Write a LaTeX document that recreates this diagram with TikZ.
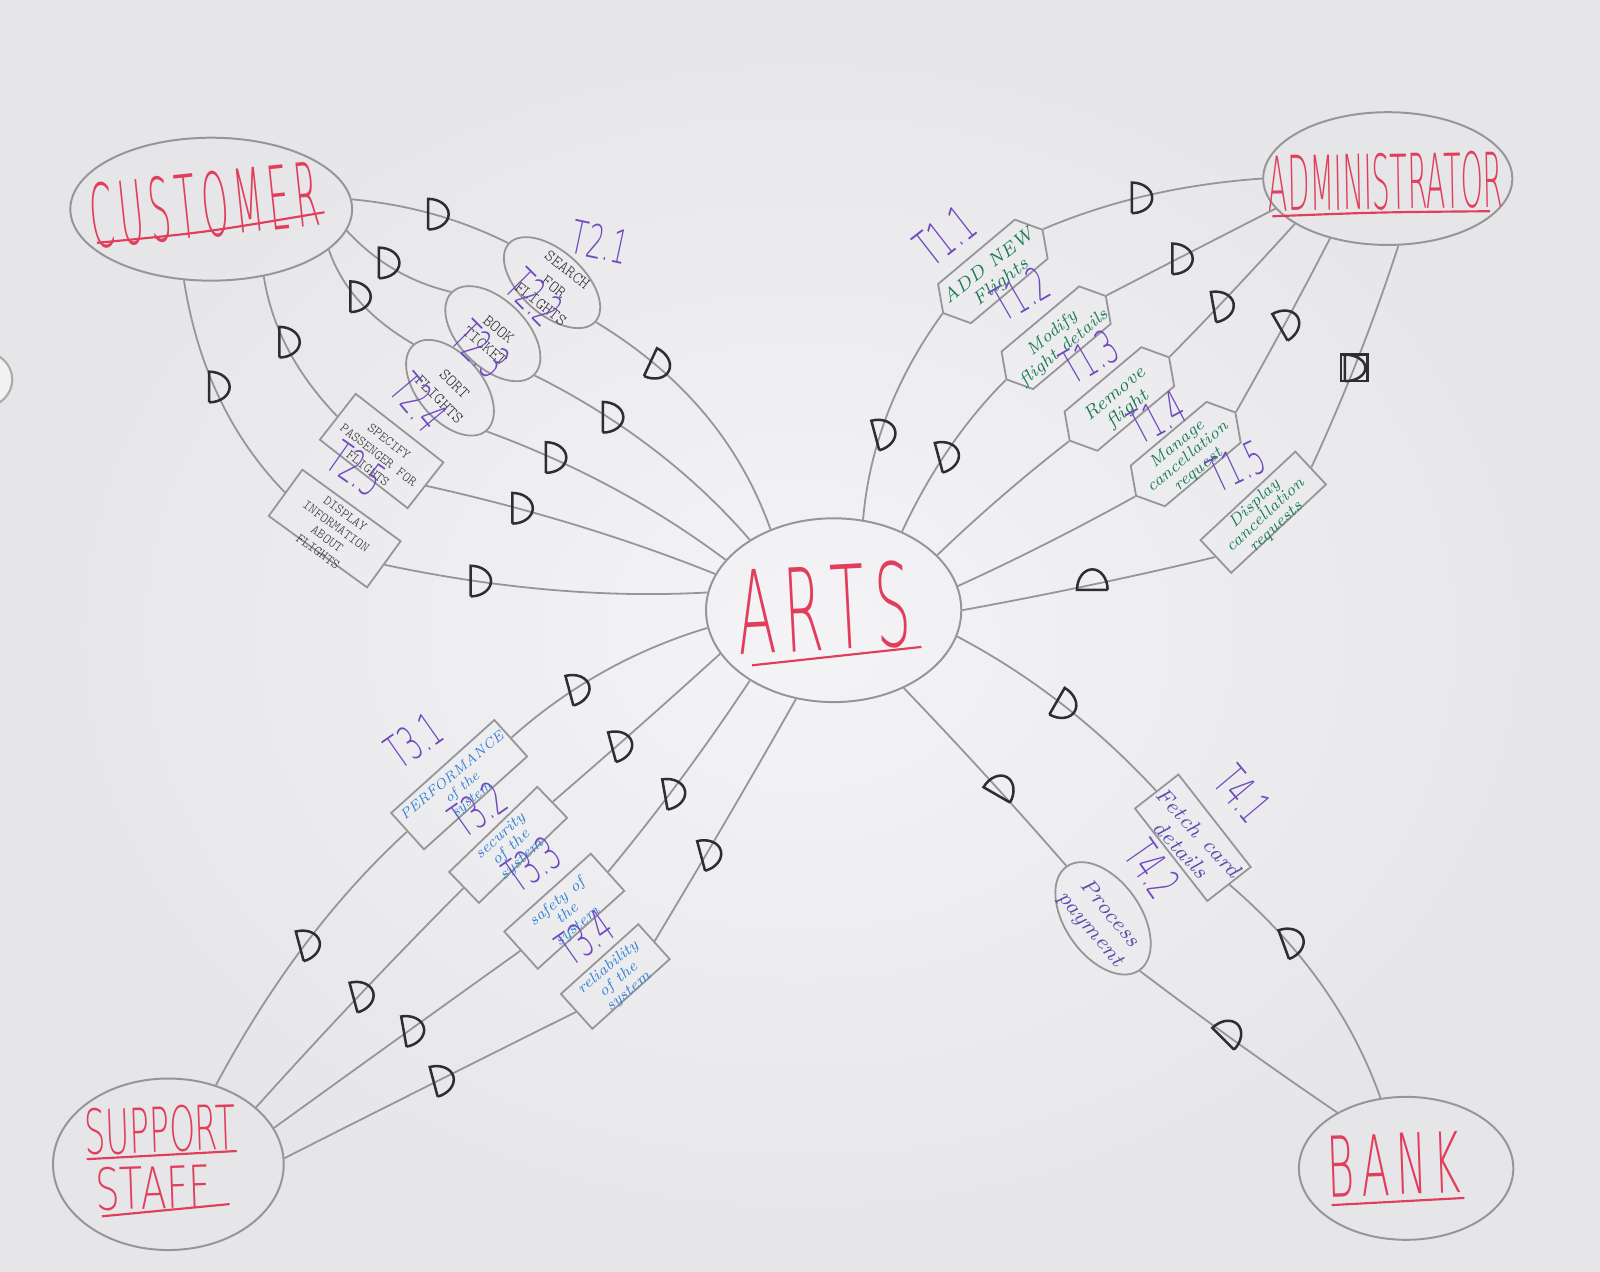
\documentclass[tikz,border=0pt]{standalone}
\usepackage{fontspec}
\usepackage{graphicx}
\usetikzlibrary{shapes.geometric,shapes.symbols,calc}
\IfFontExistsTF{DejaVuSans-ExtraLight.ttf}
  {\newfontfamily\handfont{DejaVuSans-ExtraLight.ttf}}
  {\newfontfamily\handfont[Extension=.otf]{lmmonoltcond10-regular}}
\newfontfamily\capsfont[Extension=.otf]{lmmonolt10-regular}
\definecolor{paperin}{RGB}{244,244,246}
\definecolor{paperout}{RGB}{230,230,232}
\definecolor{pencil}{RGB}{150,150,153}
\definecolor{ink}{RGB}{45,45,52}
\definecolor{titlered}{RGB}{225,62,92}
\definecolor{lblpurple}{RGB}{112,72,192}
\definecolor{txtgreen}{RGB}{28,122,86}
\definecolor{txtblue}{RGB}{48,128,212}
\definecolor{txtviolet}{RGB}{88,78,172}
\newcommand{\tlab}[1]{\scalebox{0.55}[1]{#1}}
\newcommand{\qconn}[5]{\draw[conn] (#1) .. controls ($(#1)!0.6667!(#2)$) and ($(#3)!0.6667!(#2)$) .. (#3) coordinate[pos=#4] (#5);}
\tikzset{
  actor/.style={draw=pencil, line width=0.55pt, ellipse, inner sep=0pt},
  actortitle/.style={text=titlered, font=\handfont\fontsize{26}{26}\selectfont, inner sep=0pt},
  uline/.style={draw=titlered, line width=0.6pt},
  conn/.style={draw=pencil, line width=0.5pt},
  task/.style={draw=pencil, line width=0.5pt, inner sep=0pt},
  ovaltask/.style={task, ellipse},
  boxtask/.style={task, rectangle},
  hextask/.style={task, signal, signal to=east and west, signal pointer angle=120},
  tlabel/.style={text=lblpurple, font=\handfont\fontsize{13}{13}\selectfont, inner sep=0pt},
  capstxt/.style={text=ink, font=\capsfont\fontsize{4.6}{6}\selectfont, align=center, inner sep=0pt},
  greentxt/.style={text=txtgreen, font=\itshape\fontsize{5.2}{5.6}\selectfont, align=center, inner sep=0pt},
  bluetxt/.style={text=txtblue, font=\itshape\fontsize{4.3}{4.4}\selectfont, align=center, inner sep=0pt},
  violettxt/.style={text=txtviolet, font=\itshape\fontsize{6}{6.8}\selectfont, align=center, inner sep=0pt},
  dstyle/.style={draw=ink, line width=0.7pt},
  dmark/.pic={\draw[dstyle] (-0.05cm,-0.15cm) -- (-0.05cm,0.15cm) arc[start angle=90,end angle=-90,x radius=0.2cm,y radius=0.15cm];},
  dboxmark/.pic={\draw[dstyle] (-0.13cm,-0.13cm) rectangle (0.13cm,0.13cm);
                 \draw[dstyle] (-0.09cm,-0.13cm) -- (-0.09cm,0.13cm) arc[start angle=90,end angle=-90,x radius=0.2cm,y radius=0.13cm];}
}
\begin{document}
\begin{tikzpicture}[x=0.01cm,y=-0.01cm]
\shade[inner color=paperin, outer color=paperout] (0,0) rectangle (1568,1246);
\useasboundingbox (0,0) rectangle (1568,1246);
\filldraw[fill=white!90!gray, draw=gray!65, line width=0.6pt] (-16,372) ellipse[x radius=28, y radius=27];

% actors
\node[actor, minimum width=2.76cm, minimum height=1.40cm] (cust) at (207,205) {};
\node[actor, minimum width=2.44cm, minimum height=1.30cm] (admin) at (1360,175) {};
\node[actor, minimum width=2.50cm, minimum height=1.80cm] (arts) at (817,598) {};
\node[actor, minimum width=2.26cm, minimum height=1.68cm] (staff) at (165,1141) {};
\node[actor, minimum width=2.10cm, minimum height=1.40cm] (bank) at (1378,1145) {};

% actor names
\node[actortitle, rotate=6] (custname) at (200,201) {\resizebox{2.25cm}{0.64cm}{C\,U\,S\,T\,O\,M\,E\,R}};
\node[actortitle, rotate=1] (adminname) at (1358,178) {\resizebox{2.3cm}{0.55cm}{ADMINISTRATOR}};
\node[actortitle, rotate=3] (artsname) at (807,596) {\resizebox{1.70cm}{0.84cm}{A\,R\,T\,S}};
\node[actortitle, rotate=2] (supname) at (157,1107) {\resizebox{1.48cm}{0.45cm}{SUPPORT}};
\node[actortitle, rotate=2] (staffname) at (150,1164) {\resizebox{1.12cm}{0.42cm}{STAFF}};
\node[actortitle, rotate=2] (bankname) at (1366,1141) {\resizebox{1.30cm}{0.60cm}{B\,A\,N\,K}};
\draw[uline] (95,238) .. controls (200,228) .. (318,208);
\draw[uline] (1247,212) .. controls (1350,208) .. (1460,207);
\draw[uline] (737,652) -- (903,634);
\draw[uline] (85,1136) -- (232,1128);
\draw[uline] (100,1192) -- (225,1180);
\draw[uline] (1305,1181) -- (1435,1174);

% T2 tasks (customer)
\node[ovaltask, rotate=-42, minimum width=1.14cm, minimum height=0.62cm] (t21) at (541,277) {};
\node[ovaltask, rotate=-45, minimum width=1.14cm, minimum height=0.66cm] (t22) at (483,327) {};
\node[ovaltask, rotate=-50, minimum width=1.10cm, minimum height=0.64cm] (t23) at (441,380) {};
\node[boxtask, rotate=-38, minimum width=1.09cm, minimum height=0.57cm] (t24) at (374,442) {};
\node[boxtask, rotate=-36, minimum width=1.19cm, minimum height=0.56cm] (t25) at (328,518) {};
\node[capstxt, rotate=-38] (t21txt) at (543,281) {SEARCH\\FOR\\FLIGHTS};
\node[capstxt, rotate=-40] (t22txt) at (482,331) {BOOK\\TICKET};
\node[capstxt, rotate=-45] (t23txt) at (438,384) {SORT\\FLIGHTS};
\node[capstxt, rotate=-38, font=\capsfont\fontsize{3.8}{4.8}\selectfont] (t24txt) at (371,446) {SPECIFY\\PASSENGER FOR\\FLIGHTS};
\node[capstxt, rotate=-36, font=\capsfont\fontsize{3.8}{4.3}\selectfont] (t25txt) at (325,522) {DISPLAY\\INFORMATION\\ABOUT\\FLIGHTS};

% T1 tasks (administrator)
\node[hextask, rotate=40, minimum width=1.27cm, minimum height=0.50cm] (t11) at (973,266) {};
\node[hextask, rotate=40, minimum width=1.27cm, minimum height=0.48cm] (t12) at (1035,331) {};
\node[hextask, rotate=40, minimum width=1.27cm, minimum height=0.50cm] (t13) at (1097,391) {};
\node[hextask, rotate=40, minimum width=1.27cm, minimum height=0.52cm] (t14) at (1162,445) {};
\node[boxtask, rotate=43, minimum width=1.27cm, minimum height=0.44cm] (t15) at (1238,502) {};
\node[greentxt, rotate=38] (t11txt) at (975,269) {ADD NEW\\Flights};
\node[greentxt, rotate=40, font=\itshape\fontsize{4.8}{5.2}\selectfont] (t12txt) at (1037,334) {Modify\\flight details};
\node[greentxt, rotate=40] (t13txt) at (1099,394) {Remove\\flight};
\node[greentxt, rotate=40, font=\itshape\fontsize{4.6}{4.6}\selectfont] (t14txt) at (1164,448) {Manage\\cancellation\\request};
\node[greentxt, rotate=43, font=\itshape\fontsize{4.6}{4.4}\selectfont] (t15txt) at (1240,505) {Display\\cancellation\\requests};

% T3 tasks (support staff)
\node[boxtask, rotate=42, minimum width=1.36cm, minimum height=0.48cm] (t31) at (450,769) {};
\node[boxtask, rotate=44, minimum width=1.20cm, minimum height=0.42cm] (t32) at (498,828) {};
\node[boxtask, rotate=42, minimum width=1.14cm, minimum height=0.49cm] (t33) at (553,893) {};
\node[boxtask, rotate=42, minimum width=1.02cm, minimum height=0.46cm] (t34) at (603,957) {};
\node[bluetxt, rotate=40, font=\itshape\fontsize{3.9}{4.2}\selectfont] (t31txt) at (453,772) {PERFORMANCE\\of the\\system};
\node[bluetxt, rotate=42] (t32txt) at (501,831) {security\\of the\\system};
\node[bluetxt, rotate=40] (t33txt) at (556,896) {safety of\\the\\system};
\node[bluetxt, rotate=40] (t34txt) at (606,960) {reliability\\of the\\system};

% T4 tasks (bank)
\node[boxtask, rotate=-52, minimum width=1.15cm, minimum height=0.54cm] (t41) at (1169,821) {};
\node[ovaltask, rotate=-55, minimum width=1.24cm, minimum height=0.74cm] (t42) at (1081,900) {};
\node[violettxt, rotate=-47] (t41txt) at (1166,824) {Fetch card\\details};
\node[violettxt, rotate=-50] (t42txt) at (1078,903) {Process\\payment};

% labels
\node[tlabel, rotate=-12] (l21) at (588,237) {\tlab{T2.1}};
\node[tlabel, rotate=-45] (l22) at (524,291) {\tlab{T2.2}};
\node[tlabel, rotate=-45] (l23) at (471,342) {\tlab{T2.3}};
\node[tlabel, rotate=-50] (l24) at (411,394) {\tlab{T2.4}};
\node[tlabel, rotate=-35] (l25) at (349,459) {\tlab{T2.5}};
\node[tlabel, rotate=38, font=\handfont\fontsize{14}{14}\selectfont] (l11) at (926,231) {\tlab{T1.1}};
\node[tlabel, rotate=30] (l12) at (1000,288) {\tlab{T1.2}};
\node[tlabel, rotate=30] (l13) at (1068,350) {\tlab{T1.3}};
\node[tlabel, rotate=28] (l14) at (1134,409) {\tlab{T1.4}};
\node[tlabel, rotate=25] (l15) at (1212,457) {\tlab{T1.5}};
\node[tlabel, rotate=35] (l31) at (406,726) {\tlab{T3.1}};
\node[tlabel, rotate=35] (l32) at (468,793) {\tlab{T3.2}};
\node[tlabel, rotate=35] (l33) at (521,847) {\tlab{T3.3}};
\node[tlabel, rotate=35] (l34) at (573,919) {\tlab{T3.4}};
\node[tlabel, rotate=-50] (l41) at (1218,778) {\tlab{T4.1}};
\node[tlabel, rotate=-55] (l42) at (1130,851) {\tlab{T4.2}};

% connectors: customer
\qconn{cust.4}{428,203}{t21.west}{0.5}{d1}
\qconn{t21.east}{710,392}{arts.128}{0.25}{d2}
\qconn{cust.-9}{382,272}{t22.west}{0.4}{d3}
\qconn{t22.east}{650,431}{arts.140}{0.3}{d4}
\qconn{cust.-19}{341,300}{t23.west}{0.45}{d5}
\qconn{t23.east}{606,470}{arts.155}{0.25}{d6}
\qconn{cust.-52}{270,345}{t24.west}{0.45}{d7}
\qconn{t24.east}{570,510}{arts.163}{0.3}{d8}
\qconn{cust.-111}{200,401}{t25.west}{0.45}{d9}
\qconn{t25.east}{545,589}{arts.172}{0.27}{d10}
% connectors: administrator
\qconn{admin.180}{1120,183}{t11.east}{0.55}{d11}
\qconn{t11.west}{855,402}{arts.72}{0.6}{d12}
\qconn{admin.195}{1157,252}{t12.east}{0.55}{d13}
\qconn{t12.west}{925,433}{arts.49}{0.55}{d14}
\qconn{admin.206}{1205,290}{t13.east}{0.6}{d15}
\qconn{t13.west}{980,485}{arts.28}{0.5}{e1}
\qconn{admin.226}{1260,318}{t14.east}{0.5}{d16}
\qconn{t14.west}{1025,535}{arts.11}{0.5}{e2}
\qconn{admin.-81}{1335,350}{t15.east}{0.55}{d17}
\qconn{t15.west}{1074,574}{arts.0}{0.5}{d18}
% connectors: support staff
\qconn{staff.59}{292,913}{t31.west}{0.5}{d19}
\qconn{t31.east}{585,648}{arts.188}{0.35}{d20}
\qconn{staff.33}{350,975}{t32.west}{0.5}{d21}
\qconn{t32.east}{625,714}{arts.201}{0.38}{d22}
\qconn{staff.19}{388,1019}{t33.west}{0.55}{d23}
\qconn{t33.east}{670,765}{arts.220}{0.42}{d24}
\qconn{staff.3}{421,1063}{t34.west}{0.53}{d25}
\qconn{t34.east}{715,800}{arts.247}{0.35}{d26}
% connectors: bank
\qconn{arts.-12}{1045,680}{t41.west}{0.5}{d27}
\qconn{t41.east}{1311,958}{bank.110}{0.3}{d28}
\qconn{arts.-48}{968,760}{t42.west}{0.58}{d29}
\qconn{t42.east}{1210,1022}{bank.141}{0.45}{d30}

% dependency marks
\foreach \c/\r in {d1/0,d2/-25,d3/0,d4/0,d5/0,d6/0,d7/0,d8/0,d9/0,d10/0,
                   d11/0,d12/15,d13/0,d14/15,d15/10,d16/30,d18/90,
                   d19/15,d20/15,d21/15,d22/15,d23/10,d24/10,d25/15,d26/15,
                   d27/-30,d28/20,d29/60,d30/45}
  {\pic[rotate=\r] at (\c) {dmark};}
\pic at (d17) {dboxmark};
\end{tikzpicture}
\end{document}
